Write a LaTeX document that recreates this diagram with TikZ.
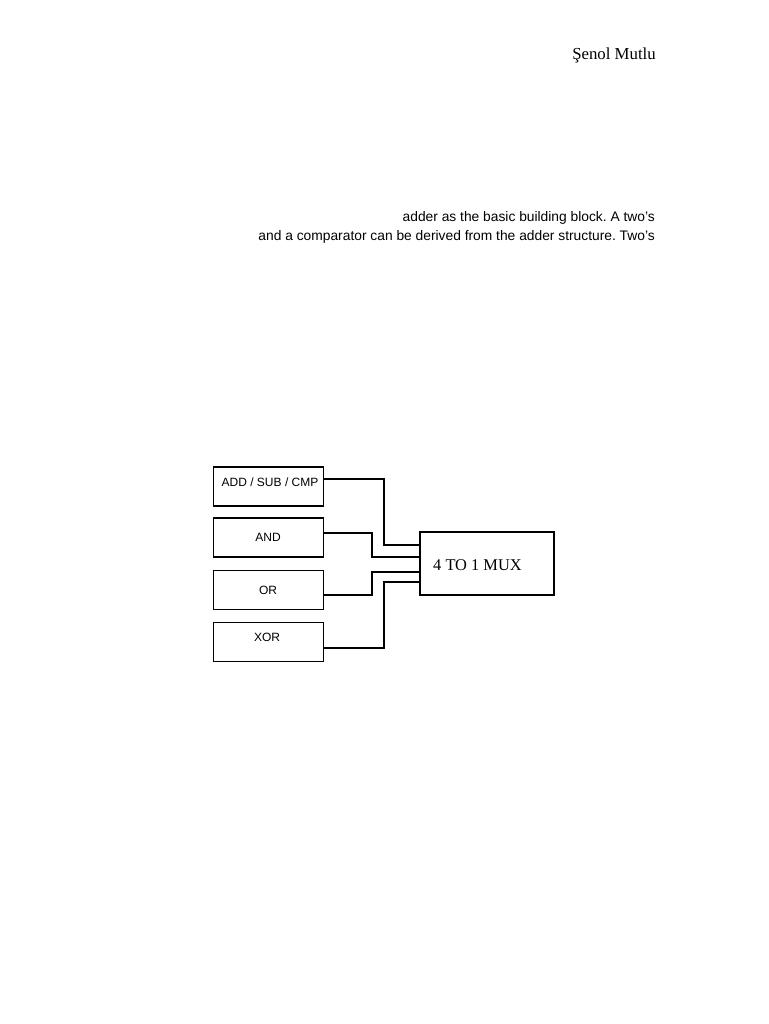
\documentclass[tikz,border=0pt]{standalone}
\usepackage{fontspec}
\setmainfont{Liberation Serif}
\setsansfont{Liberation Sans}
\frenchspacing
\begin{document}
\begin{tikzpicture}[x=1pt,y=-1pt,
  blk/.style={draw,line width=1.6pt,minimum width=110pt,minimum height=39pt,inner sep=0pt},
  blklabel/.style={inner sep=0pt,font=\sffamily\fontsize{12}{14}\selectfont},
  muxbox/.style={draw,line width=1.6pt,minimum width=134pt,minimum height=63pt,inner sep=0pt},
  wire/.style={line width=1.9pt},
  body/.style={anchor=east,inner sep=0pt,font=\sffamily\fontsize{13.8}{16}\selectfont}]
\useasboundingbox (0,0) rectangle (768,1024);
\fill[white] (0,0) rectangle (768,1024);
\node[anchor=east,inner sep=0pt,font=\fontsize{16.8}{19}\selectfont] (hdr) at (656,55) {Şenol Mutlu};
\node[body] (l1) at (655,218) {adder as the basic building block. A two’s};
\node[body] (l2) at (655,237) {and a comparator can be derived from the adder structure. Two’s};
\node[blk] (add) at (268.5,486.5) {};
\node[blk] (and) at (268.5,537.5) {};
\node[blk] (or) at (268.5,590) {};
\node[blk] (xor) at (268.5,642) {};
\node[blklabel] (addt) at (270,482) {ADD / SUB / CMP};
\node[blklabel] (andt) at (268,537) {AND};
\node[blklabel] (ort) at (268,590) {OR};
\node[blklabel] (xort) at (267,637) {XOR};
\node[muxbox] (mux) at (487,563.5) {};
\node[font=\fontsize{16.4}{18}\selectfont,inner sep=0pt,anchor=west] (muxt) at (433,565) {4 TO 1 MUX};
\coordinate (ma) at (mux.west |- 0,545);
\coordinate (mb) at (mux.west |- 0,557);
\coordinate (mc) at (mux.west |- 0,572);
\coordinate (md) at (mux.west |- 0,582);
\draw[wire] (add.east |- 0,479) -| (384,545) -- (ma);
\draw[wire] (and.east |- 0,533) -| (372,557) -- (mb);
\draw[wire] (or.east |- 0,595) -| (372,572) -- (mc);
\draw[wire] (xor.east |- 0,648) -| (384,582) -- (md);
\end{tikzpicture}
\end{document}
